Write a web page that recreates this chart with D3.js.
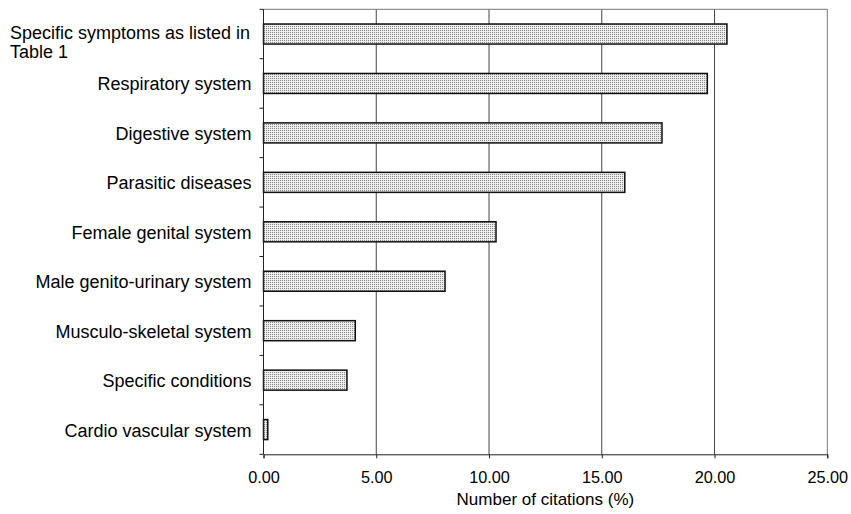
<!DOCTYPE html>
<html><head><meta charset="utf-8">
<script src="https://cdn.jsdelivr.net/npm/d3@7"></script>
<style>body{margin:0;background:#fff}svg{display:block}text{font-family:"Liberation Sans",Arial,sans-serif;fill:#000}</style>
</head><body>
<svg id="c" width="851" height="514"></svg>
<script>
const categories = ["Specific symptoms as listed in|Table 1","Respiratory system","Digestive system","Parasitic diseases","Female genital system","Male genito-urinary system","Musculo-skeletal system","Specific conditions","Cardio vascular system"];
const values = [20.55,19.68,17.67,16.02,10.31,8.05,4.07,3.70,0.19];
const xTicks = [0,5,10,15,20,25];
const xTitle = "Number of citations (%)";

const svg = d3.select("#c");
const m = {l:263.5, r:827.3, t:9.3, b:454.3};
const x = d3.scaleLinear().domain([0,25]).range([m.l,m.r]);
const y = d3.scaleBand().domain(d3.range(categories.length)).range([m.t,m.b]).paddingInner(0.595).paddingOuter(0.2975);
const band = d3.scaleBand().domain(d3.range(categories.length)).range([m.t,m.b]);

const defs = svg.append("defs");
const pat = defs.append("pattern").attr("id","dots").attr("patternUnits","userSpaceOnUse").attr("width",2).attr("height",2);
pat.append("rect").attr("width",2).attr("height",2).attr("fill","#ececec");
pat.append("rect").attr("width",1).attr("height",1).attr("fill","#8a8a8a");

// gridlines
svg.append("g").selectAll("line").data(xTicks.slice(1,-1)).join("line")
  .attr("x1",d=>x(d)).attr("x2",d=>x(d)).attr("y1",m.t).attr("y2",m.b)
  .attr("stroke","#444").attr("stroke-width",1);
// border top & right
svg.append("path").attr("d",`M${m.l},${m.t}H${m.r}V${m.b}`).attr("fill","none").attr("stroke","#777").attr("stroke-width",1);

// bars
svg.append("g").selectAll("rect").data(values).join("rect")
  .attr("x",x(0)).attr("y",(d,i)=>y(i)).attr("width",d=>x(d)-x(0)).attr("height",y.bandwidth())
  .attr("fill","url(#dots)").attr("stroke","#111").attr("stroke-width",1.5);

// x axis
const xa = svg.append("g").attr("transform",`translate(0,${m.b})`)
  .call(d3.axisBottom(x).tickValues(xTicks).tickFormat(d3.format(".2f")).tickSize(4).tickPadding(13));
xa.select(".domain").attr("stroke","#222");
xa.selectAll("line").attr("stroke","#222");
xa.selectAll("text").attr("font-size","16.3px").attr("fill","#000");

// y axis
const ya = svg.append("g").attr("transform",`translate(${m.l},0)`);
ya.append("line").attr("x1",0).attr("x2",0).attr("y1",m.t).attr("y2",m.b).attr("stroke","#222");
ya.selectAll("line.t").data(d3.range(categories.length+1)).join("line").attr("class","t")
  .attr("x1",-4).attr("x2",0)
  .attr("y1",i=>i<categories.length?band(i):m.b).attr("y2",i=>i<categories.length?band(i):m.b)
  .attr("stroke","#222");

// labels
const lab = svg.append("g");
categories.forEach((c,i)=>{
  const cy = y(i)+y.bandwidth()/2;
  const parts = c.split("|");
  if(parts.length>1){
    parts.forEach((p,j)=>lab.append("text").attr("x",10).attr("y",cy+4.5+j*19.5).attr("font-size","18px").text(p));
  } else {
    lab.append("text").attr("x",251.5).attr("y",cy+7).attr("text-anchor","end").attr("font-size","18px").text(c);
  }
});

svg.append("text").attr("x",(m.l+m.r)/2).attr("y",504.5).attr("text-anchor","middle").attr("font-size","17px").text(xTitle);
</script>
</body></html>
